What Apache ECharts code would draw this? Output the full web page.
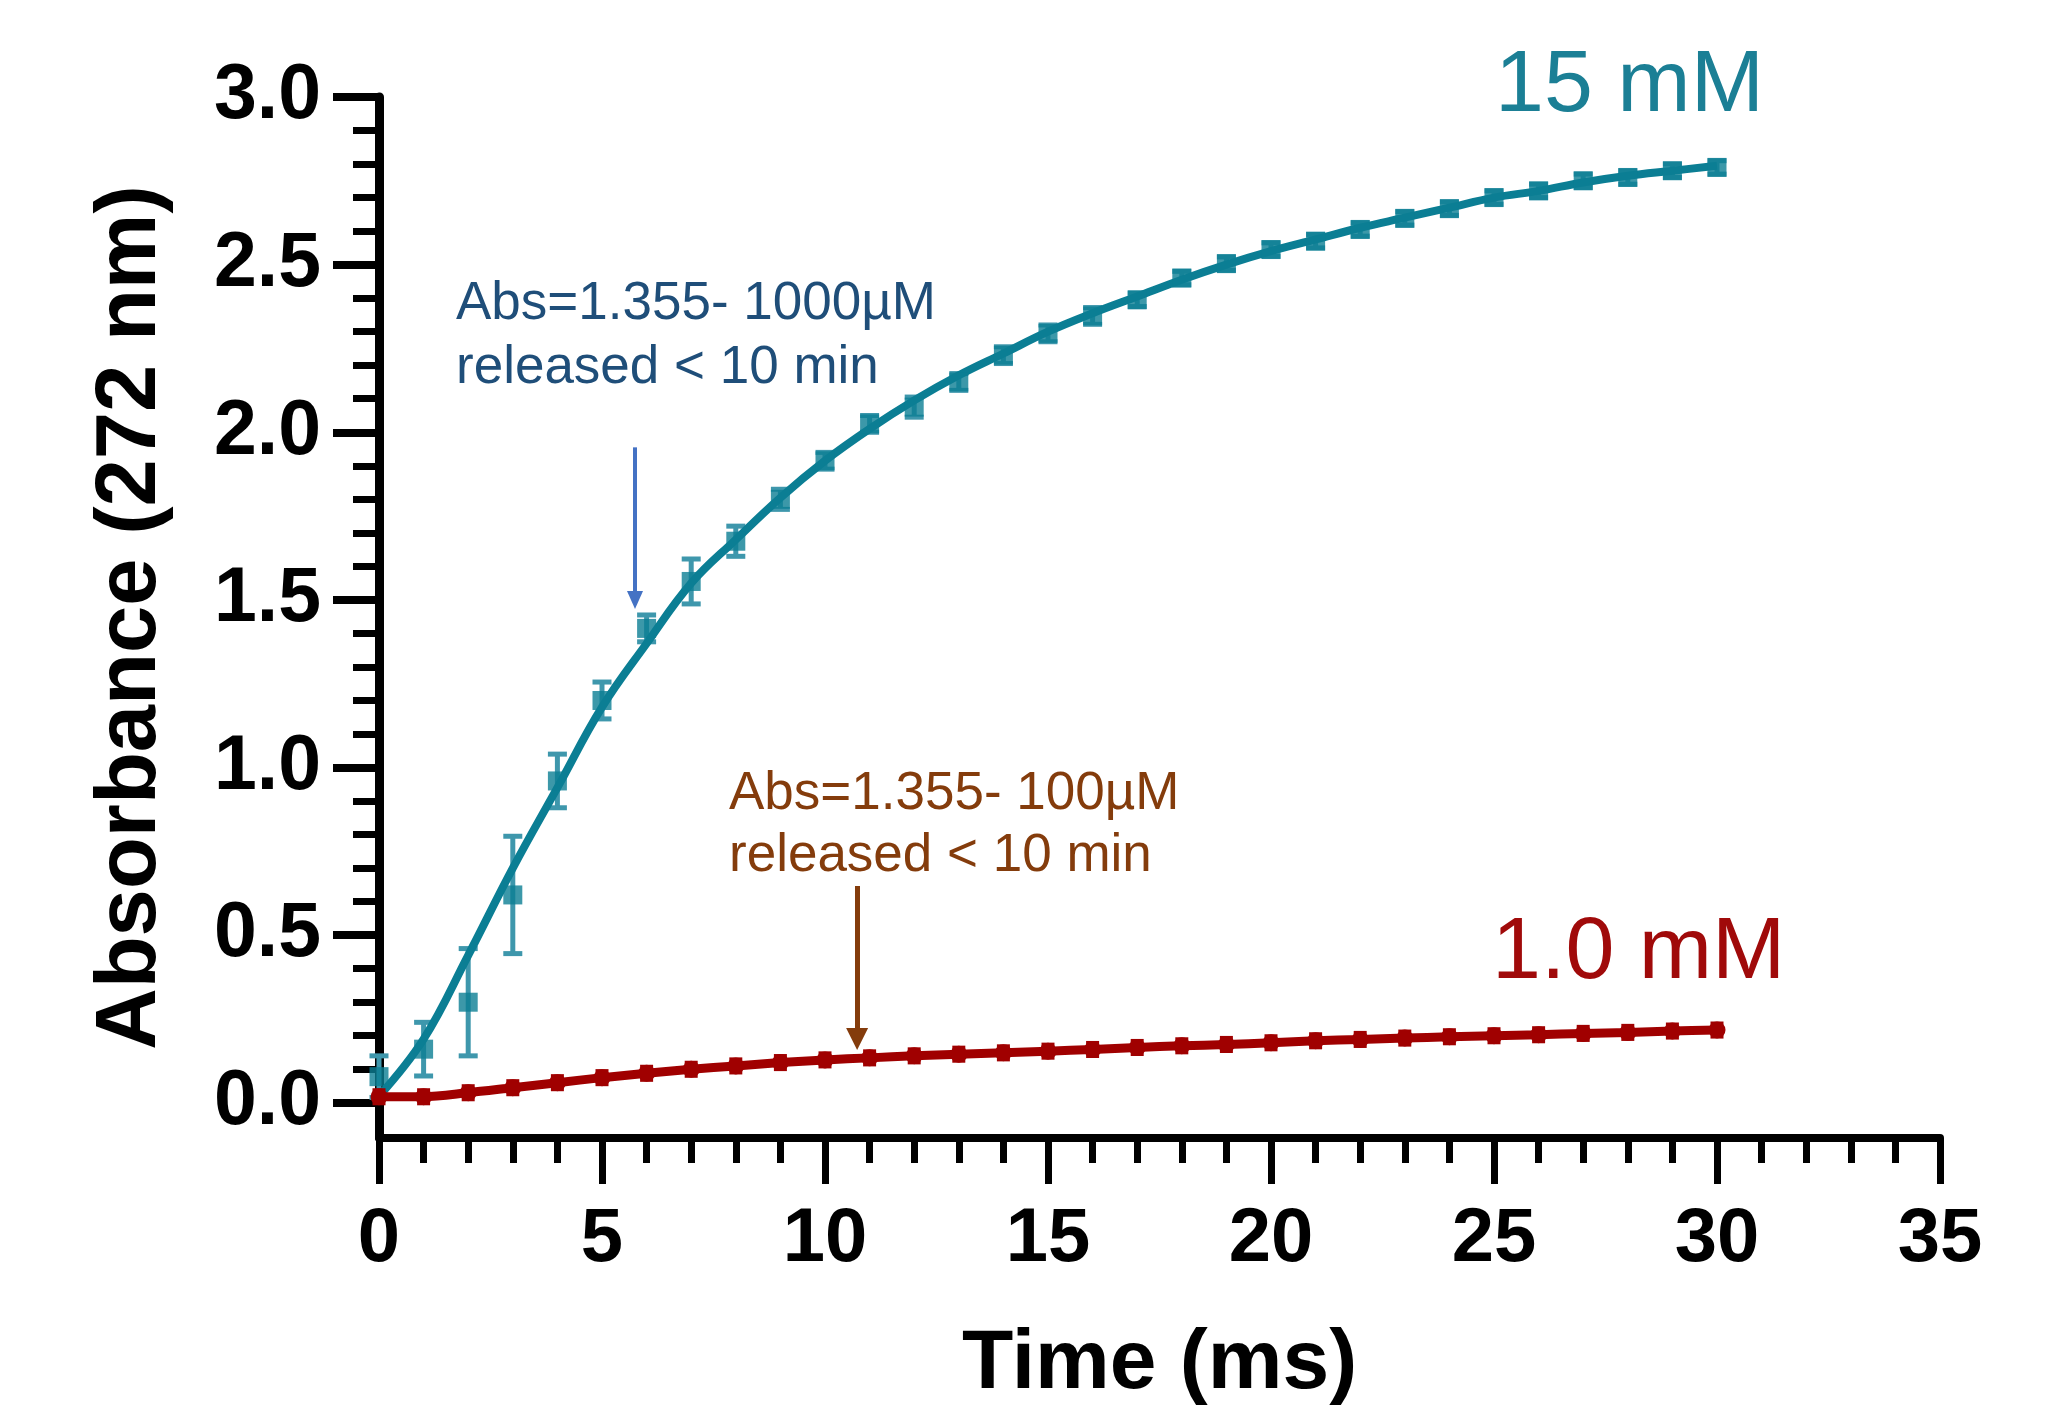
<!DOCTYPE html>
<html>
<head>
<meta charset="utf-8">
<title>Absorbance vs time</title>
<script src="https://cdn.jsdelivr.net/npm/echarts@6/dist/echarts.min.js"></script>
<style>
  html, body { margin: 0; padding: 0; background: #ffffff; }
  #chart { width: 2056px; height: 1412px; }
</style>
</head>
<body>
<div id="chart"></div>
<script>
// Sampling times (ms)
const timeMs = [0, 1, 2, 3, 4, 5, 6, 7, 8, 9, 10, 11, 12, 13, 14, 15, 16, 17, 18, 19, 20, 21, 22, 23, 24, 25, 26, 27, 28, 29, 30];

// 15 mM: mean absorbance, half-width of the error bar, fitted curve
const abs15 = [0.078, 0.16, 0.30, 0.62, 0.96, 1.20, 1.415, 1.555, 1.675, 1.80, 1.915, 2.025, 2.075, 2.15, 2.23, 2.295, 2.347, 2.395, 2.46, 2.503, 2.545, 2.57, 2.605, 2.638, 2.667, 2.70, 2.72, 2.75, 2.76, 2.78, 2.79];
const err15 = [0.062, 0.08, 0.16, 0.175, 0.08, 0.055, 0.04, 0.067, 0.045, 0.03, 0.025, 0.025, 0.03, 0.025, 0.025, 0.025, 0.025, 0.02, 0.02, 0.02, 0.02, 0.02, 0.02, 0.02, 0.02, 0.02, 0.02, 0.02, 0.02, 0.02, 0.02];
const fit15 = [0.02, 0.19, 0.44, 0.70, 0.94, 1.18, 1.37, 1.55, 1.68, 1.805, 1.915, 2.01, 2.095, 2.17, 2.235, 2.30, 2.355, 2.405, 2.455, 2.50, 2.54, 2.575, 2.61, 2.64, 2.67, 2.70, 2.72, 2.745, 2.765, 2.78, 2.795];

// 1.0 mM: mean absorbance and half-width of the error bar
const abs1 = [0.018, 0.018, 0.03, 0.045, 0.06, 0.075, 0.088, 0.10, 0.11, 0.12, 0.128, 0.134, 0.14, 0.145, 0.149, 0.154, 0.159, 0.165, 0.17, 0.174, 0.179, 0.185, 0.189, 0.193, 0.197, 0.20, 0.203, 0.207, 0.21, 0.214, 0.217];
const err1 = [0.018, 0.018, 0.018, 0.018, 0.018, 0.018, 0.018, 0.018, 0.018, 0.018, 0.018, 0.018, 0.018, 0.018, 0.018, 0.018, 0.018, 0.018, 0.018, 0.018, 0.018, 0.018, 0.018, 0.018, 0.018, 0.018, 0.018, 0.018, 0.018, 0.018, 0.018];

// Y axis ticks
const yMajorTicks = [0, 0.5, 1.0, 1.5, 2.0, 2.5, 3.0];
const yMinorTicks = [0, 0.1, 0.2, 0.3, 0.4, 0.5, 0.6, 0.7, 0.8, 0.9, 1.0, 1.1, 1.2, 1.3, 1.4, 1.5, 1.6, 1.7, 1.8, 1.9, 2.0, 2.1, 2.2, 2.3, 2.4, 2.5, 2.6, 2.7, 2.8, 2.9, 3.0];

// Annotation arrows: [time, absorbance] of tail and head
const arrow15 = [[5.74, 1.955], [5.74, 1.50]];
const arrow1 = [[10.72, 0.647], [10.72, 0.19]];

const FONT = '"Liberation Sans", Arial, Helvetica, sans-serif';
const TEAL = '#0b7e94';
const TEAL_ERR = '#3e97ac';
const RED = '#a00000';

const chart = echarts.init(document.getElementById('chart'), null, { renderer: 'canvas' });

function errorBarSeries(values, errs, color, capWidth, lineWidth, z) {
  return {
    type: 'custom',
    xAxisIndex: 0,
    yAxisIndex: 0,
    z: z,
    silent: true,
    data: timeMs.map((t, i) => [t, values[i] - errs[i], values[i] + errs[i]]),
    encode: { x: 0, y: [1, 2] },
    renderItem: function (params, api) {
      const t = api.value(0);
      const lo = api.coord([t, api.value(1)]);
      const hi = api.coord([t, api.value(2)]);
      const st = { stroke: color, lineWidth: lineWidth };
      return {
        type: 'group',
        children: [
          { type: 'line', shape: { x1: lo[0], y1: lo[1], x2: hi[0], y2: hi[1] }, style: st },
          { type: 'line', shape: { x1: hi[0] - capWidth / 2, y1: hi[1], x2: hi[0] + capWidth / 2, y2: hi[1] }, style: st },
          { type: 'line', shape: { x1: lo[0] - capWidth / 2, y1: lo[1], x2: lo[0] + capWidth / 2, y2: lo[1] }, style: st }
        ]
      };
    }
  };
}

const option = {
  backgroundColor: '#ffffff',
  animation: false,
  grid: { left: 379, top: 97, width: 1561, height: 1041, containLabel: false },
  xAxis: {
    type: 'value',
    min: 0,
    max: 35,
    interval: 5,
    axisLine: { show: true, onZero: false, lineStyle: { color: '#000', width: 8 } },
    axisTick: { show: true, length: 46, lineStyle: { color: '#000', width: 7 } },
    minorTick: { show: true, splitNumber: 5, length: 25, lineStyle: { color: '#000', width: 7 } },
    splitLine: { show: false },
    minorSplitLine: { show: false },
    axisLabel: { fontFamily: FONT, fontSize: 76, fontWeight: 'bold', color: '#000', margin: 64 },
    name: 'Time (ms)',
    nameLocation: 'middle',
    nameGap: 185,
    nameTextStyle: { fontFamily: FONT, fontSize: 84, fontWeight: 'bold', color: '#000' }
  },
  yAxis: [
    {
      type: 'value',
      min: -0.105,
      max: 3,
      axisLine: { show: true, onZero: false, lineStyle: { color: '#000', width: 9 } },
      axisTick: { show: true, customValues: yMajorTicks, length: 46, lineStyle: { color: '#000', width: 8 } },
      axisLabel: {
        customValues: yMajorTicks,
        formatter: v => Number(v).toFixed(1),
        fontFamily: FONT, fontSize: 77, fontWeight: 'bold', color: '#000', margin: 58
      },
      splitLine: { show: false },
      name: 'Absorbance (272 nm)',
      nameLocation: 'middle',
      nameGap: 205,
      nameTextStyle: { fontFamily: FONT, fontSize: 85, fontWeight: 'bold', color: '#000' }
    },
    {
      type: 'value',
      min: -0.105,
      max: 3,
      position: 'left',
      axisLine: { show: false },
      axisTick: { show: true, customValues: yMinorTicks, length: 26, lineStyle: { color: '#000', width: 7 } },
      axisLabel: { show: false },
      splitLine: { show: false }
    }
  ],
  series: [
    errorBarSeries(abs15, err15, TEAL_ERR, 19, 5, 2),
    {
      name: '15 mM fit',
      type: 'line',
      xAxisIndex: 0,
      yAxisIndex: 0,
      z: 3,
      data: timeMs.map((t, i) => [t, fit15[i]]),
      smooth: 0.4,
      showSymbol: false,
      lineStyle: { color: TEAL, width: 8 },
      silent: true,
      markLine: {
        silent: true,
        symbol: ['none', 'triangle'],
        symbolSize: [16, 18],
        label: { show: false },
        lineStyle: { color: '#4472c4', width: 4, type: 'solid' },
        data: [[{ coord: arrow15[0] }, { coord: arrow15[1] }]]
      }
    },
    {
      name: '15 mM',
      type: 'scatter',
      xAxisIndex: 0,
      yAxisIndex: 0,
      z: 4,
      data: timeMs.map((t, i) => [t, abs15[i]]),
      symbol: 'rect',
      symbolSize: 19,
      itemStyle: { color: TEAL },
      silent: true
    },
    errorBarSeries(abs1, err1, RED, 13, 5, 5),
    {
      name: '1.0 mM',
      type: 'line',
      xAxisIndex: 0,
      yAxisIndex: 0,
      z: 6,
      data: timeMs.map((t, i) => [t, abs1[i]]),
      smooth: 0.3,
      symbol: 'circle',
      symbolSize: 17,
      showSymbol: true,
      itemStyle: { color: RED },
      lineStyle: { color: RED, width: 9 },
      silent: true,
      markLine: {
        silent: true,
        symbol: ['none', 'triangle'],
        symbolSize: [22, 22],
        label: { show: false },
        lineStyle: { color: '#843c0c', width: 5, type: 'solid' },
        data: [[{ coord: arrow1[0] }, { coord: arrow1[1] }]]
      }
    }
  ],
  graphic: [
    {
      type: 'text', x: 456, y: 272, silent: true,
      style: { text: 'Abs=1.355- 1000µM\nreleased < 10 min', font: '53px ' + FONT, fill: '#1f4e79', lineHeight: 64, align: 'left', verticalAlign: 'top' }
    },
    {
      type: 'text', x: 729, y: 763, silent: true,
      style: { text: 'Abs=1.355- 100µM\nreleased < 10 min', font: '53px ' + FONT, fill: '#843c0c', lineHeight: 62, align: 'left', verticalAlign: 'top' }
    },
    {
      type: 'text', x: 1495, y: 87, silent: true,
      style: { text: '15 mM', font: '88px ' + FONT, fill: '#1b7f95', align: 'left', verticalAlign: 'middle' }
    },
    {
      type: 'text', x: 1492, y: 954, silent: true,
      style: { text: '1.0 mM', font: '88px ' + FONT, fill: '#a00a0a', align: 'left', verticalAlign: 'middle' }
    }
  ]
};

chart.setOption(option);
</script>
</body>
</html>
